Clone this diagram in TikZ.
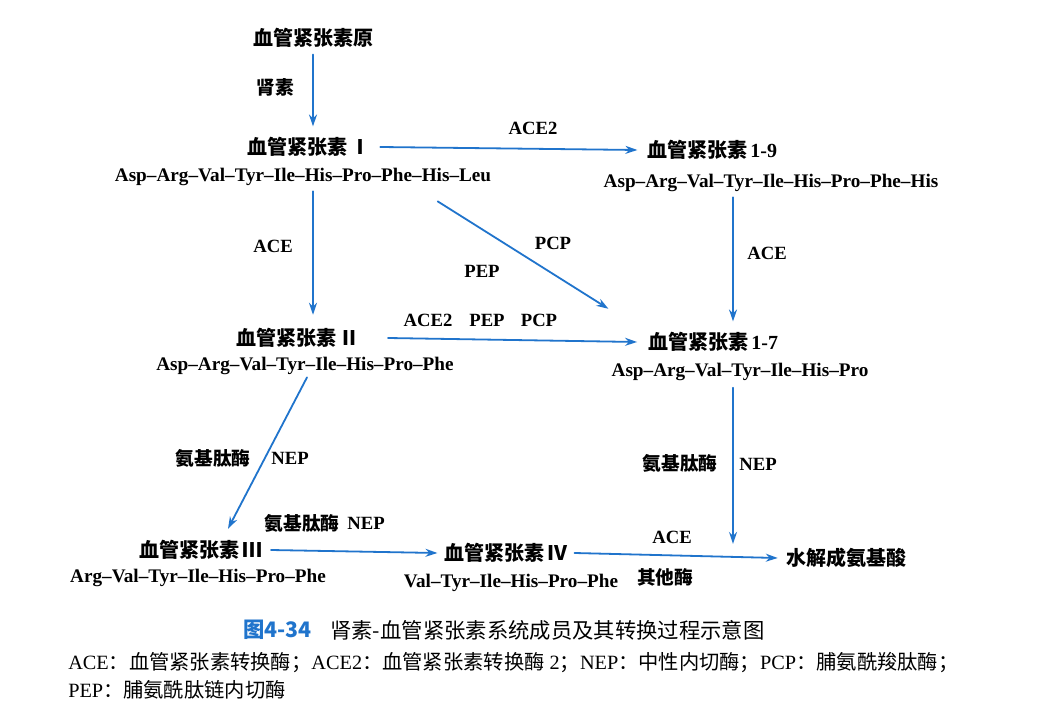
\documentclass[tikz,border=0pt]{standalone}
\usepackage{fontspec}
\setmainfont{Liberation Serif}
\newfontfamily\cjk{Noto Sans CJK SC}
\usetikzlibrary{arrows.meta}

\definecolor{rasblue}{RGB}{32,116,204}
\newcommand\zh[1]{{\cjk #1}}

\tikzset{
  nm/.style={font=\fontsize{15}{18}\selectfont\bfseries, inner sep=1pt},
  sq/.style={font=\fontsize{14.4}{16}\selectfont\bfseries, inner sep=1pt},
  lb/.style={font=\fontsize{14}{16}\selectfont\bfseries, inner sep=1pt},
  arr/.style={draw=rasblue, line width=1.35pt, -{Stealth[length=9pt,width=6pt]}},
}

\begin{document}
\begin{tikzpicture}[x=0.75pt,y=-0.75pt,line cap=round,line join=round]
  \useasboundingbox[fill=white] (0,0) rectangle (1041,712);
  \coordinate (colL) at (313,0);
  \coordinate (colR) at (733,0);
  % peptides
  \node[nm] (ang0) at (313,38) {\zh{血管紧张素原}};
  \node[nm] (ang1) at (309,147) {\zh{血管紧张素\,Ⅰ}};
  \node[sq] (seq1) at (303,177) {Asp–Arg–Val–Tyr–Ile–His–Pro–Phe–His–Leu};
  \node[nm] (ang19) at (712,150) {\zh{血管紧张素}\,1-9};
  \node[sq] (seq19) at (771,183) {Asp–Arg–Val–Tyr–Ile–His–Pro–Phe–His};
  \node[nm] (ang2) at (298,338) {\zh{血管紧张素\,Ⅱ}};
  \node[sq] (seq2) at (305,366) {Asp–Arg–Val–Tyr–Ile–His–Pro–Phe};
  \node[nm] (ang17) at (713,342) {\zh{血管紧张素}\,1-7};
  \node[sq] (seq17) at (740,372) {Asp–Arg–Val–Tyr–Ile–His–Pro};
  \node[nm] (ang3) at (201,550) {\zh{血管紧张素\,Ⅲ}};
  \node[sq] (seq3) at (198,578) {Arg–Val–Tyr–Ile–His–Pro–Phe};
  \node[nm] (ang4) at (506,553) {\zh{血管紧张素\,Ⅳ}};
  \node[sq] (seq4) at (511,583) {Val–Tyr–Ile–His–Pro–Phe};
  \node[nm] (aa) at (846,558) {\zh{水解成氨基酸}};
  % enzymes
  \node[lb] (renin) at (275,87) {\zh{肾素}};
  \node[lb] (e1) at (533,128) {ACE2};
  \node[lb] (e2) at (273,246) {ACE};
  \node[lb] (e3) at (767,253) {ACE};
  \node[lb] (e4) at (553,243) {PCP};
  \node[lb] (e5) at (482,271) {PEP};
  \node[lb] (e6) at (428,320) {ACE2};
  \node[lb] (e7) at (487,320) {PEP};
  \node[lb] (e8) at (539,320) {PCP};
  \node[lb] (e9) at (213,458) {\zh{氨基肽酶}};
  \node[lb] (e10) at (290,458) {NEP};
  \node[lb] (e11) at (680,463) {\zh{氨基肽酶}};
  \node[lb] (e12) at (758,464) {NEP};
  \node[lb] (e13) at (302,523) {\zh{氨基肽酶}};
  \node[lb] (e14) at (366,523) {NEP};
  \node[lb] (e15) at (672,537) {ACE};
  \node[lb] (e16) at (665,577) {\zh{其他酶}};
  % arrows
  \draw[arr] ([yshift=-4pt]ang0.south -| colL) -- ([yshift=7pt]ang1.north -| colL);
  \draw[arr] ([xshift=6pt]ang1.east) -- ([xshift=-6pt]ang19.west);
  \draw[arr] ([yshift=-3pt]seq1.south -| colL) -- ([yshift=9pt]ang2.north -| colL);
  \draw[arr] ([yshift=-3pt]seq19.south -| colR) -- ([yshift=7pt]ang17.north -| colR);
  \draw[arr] ([shift={(-55,14)}]seq1.south east) -- ([shift={(-38,-22)}]ang17.north west);
  \draw[arr] ([xshift=20pt]ang2.east) -- ([xshift=-7pt]ang17.west);
  \draw[arr] ([shift={(2,1)}]seq2.south) -- ([shift={(27,-10)}]ang3.north);
  \draw[arr] ([yshift=-4pt]seq17.south -| colR) -- ([yshift=2pt]aa.north -| colR);
  \draw[arr] ([xshift=5pt]ang3.east) -- ([xshift=-4pt]ang4.west);
  \draw[arr] ([xshift=4pt]ang4.east) -- ([xshift=-5pt]aa.west);
  % caption
  \node[font=\fontsize{16}{18}\selectfont\cjk\bfseries, text=rasblue, anchor=west, inner sep=0pt] (fig) at (243,630) {图4-34};
  \node[font=\fontsize{16}{18}\selectfont\cjk, anchor=west, inner sep=0pt] (title) at (330,630) {肾素-血管紧张素系统成员及其转换过程示意图};
  \node[font=\fontsize{15.2}{17}\selectfont, anchor=west, inner sep=0pt] (leg1) at (68,663) {ACE\zh{：血管紧张素转换酶；}ACE2\zh{：血管紧张素转换酶} 2\zh{；}NEP\zh{：中性内切酶；}PCP\zh{：脯氨酰羧肽酶；}};
  \node[font=\fontsize{15.2}{17}\selectfont, anchor=west, inner sep=0pt] (leg2) at (68,690) {PEP\zh{：脯氨酰肽链内切酶}};
\end{tikzpicture}
\end{document}
